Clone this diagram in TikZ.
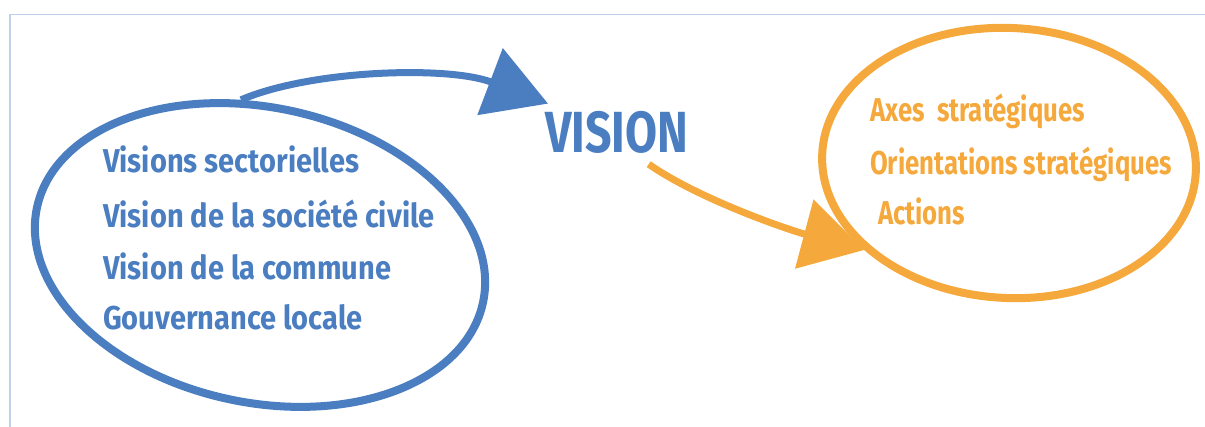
\documentclass[tikz,border=0pt]{standalone}
\usepackage{fontspec}
\setmainfont{Fira Sans}
\newfontfamily\bluefont{Fira Sans}[FakeStretch=0.88]
\newfontfamily\orangefont{Fira Sans}[FakeStretch=0.78]
\newfontfamily\visionfont{Fira Sans}[FakeStretch=0.8]
\usetikzlibrary{arrows.meta}
\usetikzlibrary{shapes.geometric}
\definecolor{visblue}{RGB}{74,126,193}
\definecolor{visorange}{RGB}{245,168,60}
\definecolor{frameblue}{RGB}{190,208,235}
\tikzstyle{ring} = [draw, ellipse, line width=8pt, inner sep=0]
\tikzstyle{bluetext} = [anchor=base west, inner sep=0, visblue, font=\bluefont\fontsize{33}{40}\selectfont\bfseries]
\tikzstyle{orangetext} = [anchor=base west, inner sep=0, visorange, font=\orangefont\fontsize{33}{40}\selectfont\bfseries]
\tikzstyle{bigarrow} = [line width=7pt, -{Triangle[length=62pt, width=70pt]}]

\begin{document}
\begin{tikzpicture}[x=1pt, y=-1pt]
    \useasboundingbox (0,0) rectangle (1205,427);
    % frame
    \draw[frameblue, line width=1.5pt] (10,427) -- (10,14.5) -- (1205,14.5);

    \node[ring, visblue, minimum width=456pt, minimum height=295pt, rotate=-12] (sources) at (260,255) {};
    \node[ring, visorange, minimum width=374pt, minimum height=270pt, rotate=-3] (plan) at (1009,163) {};

    \node[bluetext] (sect) at (103,173) {Visions sectorielles};
    \node[bluetext] (civil) at (103,228) {Vision de la société civile};
    \node[bluetext] (commune) at (103,280) {Vision de la commune};
    \node[bluetext] (gouv) at (103,330) {Gouvernance locale};

    \node[anchor=base west, inner sep=0, visblue, font=\visionfont\fontsize{58}{60}\selectfont\bfseries] (vision) at (545,153) {VISION};

    \node[orangetext] (axes) at (870,122) {Axes\ \ stratégiques};
    \node[orangetext] (orient) at (870,175) {Orientations stratégiques};
    \node[orangetext] (actions) at (878,225) {Actions};

    \draw[bigarrow, visblue] (sources.109) .. controls +(70,-30) and +(-100,-38) .. ([shift={(3pt,8pt)}]vision.north west);
    \draw[bigarrow, visorange] ([shift={(32pt,-10pt)}]vision.south) .. controls +(50,35) and +(-75,-20) .. (plan.214);
\end{tikzpicture}
\end{document}
